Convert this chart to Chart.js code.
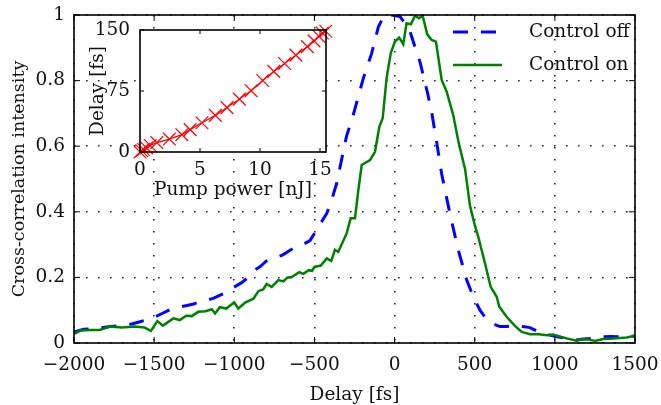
<!DOCTYPE html>
<html>
<head>
<meta charset="utf-8">
<script src="https://cdn.jsdelivr.net/npm/chart.js@4.4.1/dist/chart.umd.min.js"></script>
<style>
html, body { margin: 0; padding: 0; background: #fff; }
#wrap { position: relative; width: 661px; height: 405px; }
#main { position: absolute; left: 0; top: 0; }
#inset { position: absolute; left: 85px; top: 18px; }
</style>
</head>
<body>
<div id="wrap">
  <canvas id="main" width="661" height="405"></canvas>
  <canvas id="inset" width="255" height="187"></canvas>
</div>
<script>
// cross-correlation, control off (blue dashed)
const offDelay = [-2000,-1940,-1890,-1775,-1700,-1640,-1588,-1505,-1450,-1401,-1318,-1260,-1214,-1131,-1070,-1010,-954,-900,-871,-840,-800,-750,-700,-632,-580,-528,-486,-455,-423,-390,-361,-330,-300,-258,-195,-143,-101,-64,-20,34,90,127,158,204,231,262,294,345,397,450,491,533,570,616,657,700,751,800,845,886,930,969,1020,1073,1136,1180,1219,1282,1350,1406,1450,1500];
const offIntensity = [0.033,0.042,0.043,0.05,0.053,0.058,0.065,0.077,0.09,0.102,0.112,0.118,0.126,0.136,0.15,0.168,0.184,0.205,0.223,0.232,0.25,0.258,0.268,0.289,0.298,0.312,0.345,0.37,0.395,0.44,0.487,0.56,0.63,0.695,0.807,0.883,0.964,1.0,1.0,0.995,0.959,0.903,0.858,0.766,0.705,0.614,0.515,0.395,0.284,0.192,0.141,0.1,0.075,0.058,0.05,0.05,0.054,0.05,0.047,0.037,0.03,0.024,0.018,0.014,0.009,0.012,0.014,0.019,0.02,0.019,0.02,0.021];

// cross-correlation, control on (green solid)
const onDelay = [-2000,-1960,-1900,-1840,-1775,-1700,-1620,-1560,-1520,-1480,-1445,-1380,-1340,-1300,-1265,-1225,-1180,-1140,-1120,-1090,-1050,-1000,-975,-930,-880,-850,-820,-798,-767,-725,-694,-670,-642,-594,-569,-535,-515,-500,-460,-423,-395,-372,-351,-299,-274,-247,-226,-205,-153,-122,-95,-74,-50,-24,2,29,54,75,102,127,152,175,204,231,258,294,325,366,400,440,470,500,522,564,599,637,653,699,751,793,845,900,950,990,1030,1073,1136,1167,1209,1250,1302,1365,1448,1500];
const onIntensity = [0.028,0.038,0.04,0.04,0.05,0.047,0.05,0.047,0.037,0.067,0.053,0.075,0.07,0.083,0.082,0.095,0.097,0.103,0.09,0.109,0.105,0.124,0.105,0.124,0.135,0.158,0.163,0.18,0.171,0.192,0.188,0.199,0.201,0.216,0.211,0.222,0.22,0.232,0.236,0.258,0.25,0.284,0.278,0.334,0.38,0.38,0.466,0.543,0.558,0.583,0.66,0.685,0.807,0.883,0.919,0.931,0.911,0.975,0.972,0.998,0.99,0.998,0.941,0.924,0.919,0.802,0.766,0.695,0.61,0.53,0.42,0.36,0.324,0.243,0.172,0.141,0.111,0.08,0.052,0.034,0.027,0.027,0.024,0.026,0.02,0.014,0.007,0.012,0.011,0.006,0.012,0.014,0.017,0.022];

// inset: delay vs pump power
const pumpPower = [0,0.15,0.3,0.55,0.85,1.4,2.45,3.49,4.18,5.16,6.28,7.25,8.28,9.26,10.23,11.15,12.05,12.99,13.95,14.5,14.92,15.2,15.48];
const pumpDelay = [0,1.5,3,5,8,11.6,15.9,21.3,27.5,35.9,45,54.6,65,75.4,87.9,99.1,108.8,119.1,129.6,136.6,142.1,146.3,148.4];

const legendNames = ['Control off', 'Control on'];

Chart.defaults.font.family = 'DejaVu Serif';
Chart.defaults.font.size = 18.5;
Chart.defaults.color = '#111';

const pts = (xs, ys) => xs.map((x, i) => ({ x: x, y: ys[i] }));
const minus = v => String(v).replace('-', '\u2212');
const fitX = h => s => { s.height = h; s.paddingLeft = 0; s.paddingRight = 0; };
const fitY = w => s => { s.width = w; s.paddingTop = 0; s.paddingBottom = 0; };

// box around the plot plus inward tick marks, like the original
function makeFrame(fillWhite, tickLen) {
  return {
    id: 'frame',
    beforeDatasetsDraw(chart) {
      if (!fillWhite) return;
      const a = chart.chartArea;
      chart.ctx.save();
      chart.ctx.fillStyle = '#fff';
      chart.ctx.fillRect(a.left, a.top, a.width, a.height);
      chart.ctx.restore();
    },
    afterDraw(chart) {
      const { ctx, chartArea: a, scales } = chart;
      ctx.save();
      ctx.strokeStyle = '#000';
      ctx.lineWidth = 1;
      ctx.beginPath();
      scales.x.ticks.forEach(t => {
        const p = scales.x.getPixelForValue(t.value);
        ctx.moveTo(p, a.bottom); ctx.lineTo(p, a.bottom - tickLen);
        ctx.moveTo(p, a.top); ctx.lineTo(p, a.top + tickLen);
      });
      scales.y.ticks.forEach(t => {
        const p = scales.y.getPixelForValue(t.value);
        ctx.moveTo(a.left, p); ctx.lineTo(a.left + tickLen, p);
        ctx.moveTo(a.right, p); ctx.lineTo(a.right - tickLen, p);
      });
      ctx.stroke();
      ctx.lineWidth = 1.6;
      ctx.strokeRect(a.left, a.top, a.width, a.height);
      ctx.restore();
    }
  };
}

const legendBox = {
  id: 'legendBox',
  afterDraw(chart) {
    const { ctx, chartArea: a } = chart;
    const x0 = a.right - 182, x1 = a.right - 133, tx = a.right - 106;
    ctx.save();
    ctx.font = '18.5px "DejaVu Serif"';
    ctx.fillStyle = '#111';
    ctx.textBaseline = 'middle';
    chart.data.datasets.forEach((ds, i) => {
      const y = a.top + 17 + i * 33;
      ctx.strokeStyle = ds.borderColor;
      ctx.lineWidth = ds.borderWidth;
      ctx.setLineDash(ds.borderDash || []);
      ctx.beginPath();
      ctx.moveTo(x0, y); ctx.lineTo(x1, y);
      ctx.stroke();
      ctx.setLineDash([]);
      ctx.fillText(legendNames[i], tx, y);
    });
    ctx.restore();
  }
};

const gridStyle = { color: '#222', lineWidth: 1.6, drawTicks: false };
const gridDash = [1.6, 10.4];

new Chart(document.getElementById('main'), {
  type: 'line',
  data: {
    datasets: [{
      label: legendNames[0],
      data: pts(offDelay, offIntensity),
      borderColor: '#0000ff',
      borderWidth: 3,
      borderDash: [15, 13],
      pointRadius: 0,
      tension: 0,
      order: 1
    }, {
      label: legendNames[1],
      data: pts(onDelay, onIntensity),
      borderColor: '#008000',
      borderWidth: 2.5,
      pointRadius: 0,
      tension: 0,
      order: 0
    }]
  },
  options: {
    responsive: false,
    animation: false,
    layout: { padding: { top: 15, right: 26, left: 0, bottom: 0 } },
    plugins: { legend: { display: false }, tooltip: { enabled: false } },
    scales: {
      x: {
        type: 'linear',
        min: -2000,
        max: 1500,
        afterFit: fitX(62),
        ticks: { stepSize: 500, padding: 11, callback: v => minus(v) },
        grid: gridStyle,
        border: { display: false, dash: gridDash },
        title: { display: true, text: 'Delay [fs]', font: { lineHeight: 1 }, padding: { top: 0, bottom: 1 } }
      },
      y: {
        min: 0,
        max: 1,
        afterFit: fitY(74),
        ticks: { stepSize: 0.2, padding: 9, callback: v => (v === 0 || v === 1) ? String(v) : v.toFixed(1) },
        grid: gridStyle,
        border: { display: false, dash: gridDash },
        title: { display: true, text: 'Cross-correlation intensity', font: { size: 17.5 }, padding: { top: 9, bottom: 0 } }
      }
    }
  },
  plugins: [makeFrame(false, 6), legendBox]
});

new Chart(document.getElementById('inset'), {
  type: 'line',
  data: {
    datasets: [{
      data: pts(pumpPower, pumpDelay),
      borderColor: '#ff0000',
      borderWidth: 1.2,
      pointStyle: 'crossRot',
      pointRadius: 9,
      pointBorderColor: '#ff0000',
      pointBorderWidth: 1.2,
      tension: 0,
      clip: false
    }]
  },
  options: {
    responsive: false,
    animation: false,
    layout: { padding: { top: 12, right: 14, left: 0, bottom: 0 } },
    plugins: { legend: { display: false }, tooltip: { enabled: false } },
    scales: {
      x: {
        type: 'linear',
        min: 0,
        max: 15.5,
        afterFit: fitX(53),
        ticks: { stepSize: 5, includeBounds: false, padding: 7 },
        grid: { display: false, drawTicks: false },
        border: { display: false },
        title: { display: true, text: 'Pump power [nJ]', padding: { top: 0, bottom: 4 } }
      },
      y: {
        min: 0,
        max: 150,
        afterFit: fitY(55),
        ticks: { stepSize: 75, padding: 10 },
        grid: { display: false, drawTicks: false },
        border: { display: false },
        title: { display: true, text: 'Delay [fs]', padding: { top: 2, bottom: 0 } }
      }
    }
  },
  plugins: [makeFrame(true, 4)]
});
</script>
</body>
</html>
